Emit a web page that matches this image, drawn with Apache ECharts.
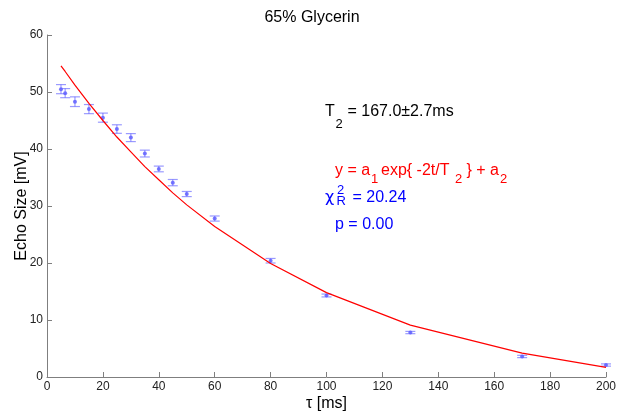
<!DOCTYPE html>
<html>
<head>
<meta charset="utf-8">
<script src="https://cdn.jsdelivr.net/npm/echarts@6/dist/echarts.min.js"></script>
<style>
  html, body { margin: 0; padding: 0; background: #fff; }
  #chart { width: 624px; height: 414px; }
</style>
</head>
<body>
<div id="chart"></div>
<script>
// Echo delay times (ms)
const tau = [5, 6.5, 10, 15, 20, 25, 30, 35, 40, 45, 50, 60, 80, 100, 130, 170, 200];
// Measured echo size (mV)
const echoSize = [50.5, 49.8, 48.3, 47.0, 45.5, 43.5, 42.0, 39.2, 36.5, 34.1, 32.1, 27.8, 20.4, 14.3, 7.8, 3.6, 2.1];
// Uncertainty on each echo size (mV)
const echoErr = [0.8, 0.8, 0.85, 0.8, 0.8, 0.75, 0.7, 0.6, 0.5, 0.55, 0.45, 0.45, 0.4, 0.25, 0.2, 0.2, 0.2];
// Fitted curve evaluated at each delay (mV)
const fitValues = [54.6, 53.6, 51.2, 48.0, 45.0, 42.1, 39.5, 36.9, 34.6, 32.3, 30.2, 26.4, 19.9, 14.8, 9.1, 4.2, 1.7];

const xTicks = { min: 0, max: 200, interval: 20 };
const yTicks = { min: 0, max: 60, interval: 10 };

const FONT = '"Liberation Sans", Arial, Helvetica, sans-serif';
const GREEK = '"DejaVu Sans", "Liberation Sans", sans-serif';

const chart = echarts.init(document.getElementById('chart'), null, { renderer: 'canvas' });

const errData = tau.map((t, i) => [t, echoSize[i], echoErr[i]]);
const pointData = tau.map((t, i) => [t, echoSize[i]]);
const fitData = tau.map((t, i) => [t, fitValues[i]]);

function txt(text, x, y, size, color, family) {
  return {
    type: 'text',
    x: x, y: y,
    silent: true,
    style: {
      text: text,
      font: size + 'px ' + (family || FONT),
      fill: color,
      align: 'left', textAlign: 'left',
      verticalAlign: 'middle', textVerticalAlign: 'middle'
    }
  };
}

const axisGray = '#7f7f7f';

chart.setOption({
  animation: false,
  backgroundColor: '#ffffff',
  title: {
    text: '65% Glycerin',
    left: 'center',
    top: 5,
    textStyle: { fontFamily: FONT, fontSize: 16, fontWeight: 'normal', color: '#000' }
  },
  grid: { left: 47, right: 18, top: 35, bottom: 37, containLabel: false, outerBoundsMode: 'none' },
  xAxis: {
    type: 'value',
    min: xTicks.min, max: xTicks.max, interval: xTicks.interval,
    name: 'τ [ms]',
    nameLocation: 'middle',
    nameGap: 19,
    nameMoveOverlap: false,
    nameTextStyle: { fontFamily: FONT, fontSize: 16, color: '#000' },
    axisLine: { lineStyle: { color: axisGray, width: 1 } },
    axisTick: { inside: true, length: 5, lineStyle: { color: axisGray } },
    axisLabel: { fontFamily: FONT, fontSize: 12, color: '#222', margin: 4 },
    splitLine: { show: false }
  },
  yAxis: {
    type: 'value',
    min: yTicks.min, max: yTicks.max, interval: yTicks.interval,
    name: 'Echo Size [mV]',
    nameLocation: 'middle',
    nameGap: 17,
    nameMoveOverlap: false,
    nameTextStyle: { fontFamily: FONT, fontSize: 16, color: '#000' },
    axisLine: { show: true, lineStyle: { color: axisGray, width: 1 } },
    axisTick: { show: true, inside: true, length: 5, lineStyle: { color: axisGray } },
    axisLabel: { fontFamily: FONT, fontSize: 12, color: '#222', margin: 4 },
    splitLine: { show: false }
  },
  series: [
    {
      name: 'errors',
      type: 'custom',
      data: errData,
      z: 2,
      renderItem: function (params, api) {
        const t = api.value(0), y = api.value(1), e = api.value(2);
        const hi = api.coord([t, y + e]);
        const lo = api.coord([t, y - e]);
        const half = 5;
        const style = { stroke: 'rgba(100,100,255,0.65)', lineWidth: 1.2 };
        return {
          type: 'group',
          children: [
            { type: 'line', shape: { x1: hi[0], y1: hi[1], x2: lo[0], y2: lo[1] }, style: style },
            { type: 'line', shape: { x1: hi[0] - half, y1: hi[1], x2: hi[0] + half, y2: hi[1] }, style: style },
            { type: 'line', shape: { x1: lo[0] - half, y1: lo[1], x2: lo[0] + half, y2: lo[1] }, style: style }
          ]
        };
      }
    },
    {
      name: 'points',
      type: 'scatter',
      data: pointData,
      symbol: 'circle',
      symbolSize: 4,
      itemStyle: { color: '#6060ff', opacity: 0.85 },
      z: 3
    },
    {
      name: 'fit',
      type: 'line',
      data: fitData,
      showSymbol: false,
      symbol: 'none',
      lineStyle: { color: '#ff0000', width: 1.2 },
      z: 4
    }
  ],
  graphic: [
    // T2 result
    txt('T', 325, 112, 16, '#000'),
    txt('2', 335.5, 124.5, 13, '#000'),
    txt('= 167.0±2.7ms', 347.5, 112, 16, '#000'),
    // model
    txt('y = a', 335, 170.5, 16, '#ff0000'),
    txt('1', 371, 179.5, 13, '#ff0000'),
    txt('exp{ -2t/T', 381, 170.5, 16, '#ff0000'),
    txt('2', 455, 179.5, 13, '#ff0000'),
    txt('} + a', 466.5, 170.5, 16, '#ff0000'),
    txt('2', 500, 179.5, 13, '#ff0000'),
    // reduced chi-square
    txt('χ', 325, 198, 16, '#0000ff', GREEK),
    txt('2', 337, 190.5, 13, '#0000ff'),
    txt('R', 336.5, 201.5, 13, '#0000ff'),
    txt('= 20.24', 352.5, 198, 16, '#0000ff'),
    // p value
    txt('p = 0.00', 335, 225, 16, '#0000ff')
  ]
});
</script>
</body>
</html>
